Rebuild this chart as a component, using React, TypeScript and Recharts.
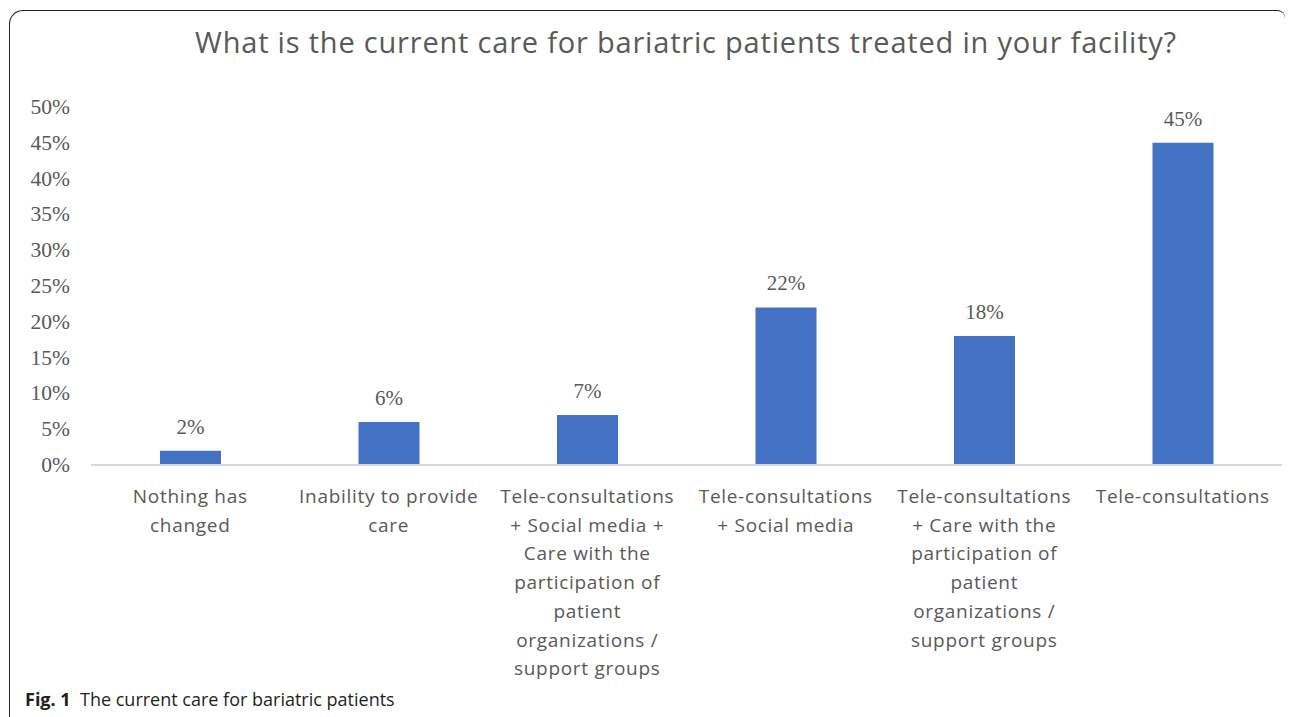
import { BarChart, Bar, XAxis, YAxis, LabelList } from 'recharts';

const categorias = [
  'Nothing has\nchanged',
  'Inability to provide\ncare',
  'Tele-consultations\n+ Social media +\nCare with the\nparticipation of\npatient\norganizations /\nsupport groups',
  'Tele-consultations\n+ Social media',
  'Tele-consultations\n+ Care with the\nparticipation of\npatient\norganizations /\nsupport groups',
  'Tele-consultations',
];
const valores = [0.02, 0.06, 0.07, 0.22, 0.18, 0.45];
const ticksY = [0, 0.05, 0.1, 0.15, 0.2, 0.25, 0.3, 0.35, 0.4, 0.45, 0.5];

const dados = categorias.map((c, i) => ({ categoria: c, valor: valores[i] }));

const cinza = '#595959';
const pct = (v: number) => `${Math.round(v * 100)}%`;

function TickX({ x, y, payload }: any) {
  const linhas = String(payload.value).split('\n');
  return (
    <text x={x} y={y} textAnchor="middle" fill={cinza} fontFamily="Open Sans" fontSize={19} letterSpacing={0.7}>
      {linhas.map((l, i) => (
        <tspan key={i} x={x} dy={i === 0 ? 30 : 28.7}>{l}</tspan>
      ))}
    </text>
  );
}

function TickY({ x, y, payload }: any) {
  return (
    <text x={x - 13} y={y + 7} textAnchor="end" fill={cinza} fontFamily="Liberation Serif" fontSize={21.5}>
      {pct(payload.value)}
    </text>
  );
}

export default function App() {
  return (
    <div style={{ position: 'fixed', left: 0, top: 0, width: 1290, height: 717, background: '#fff', overflow: 'hidden' }}>
      <div style={{
        position: 'absolute', left: 9, top: 10, width: 1276, height: 720,
        borderTop: '1.5px solid #222', borderLeft: '1.5px solid #222', borderTopLeftRadius: 14, borderTopRightRadius: 8,
        boxSizing: 'border-box',
      }} />
      <div style={{
        position: 'absolute', left: 0, top: 22, width: 1372, textAlign: 'center',
        fontFamily: 'Open Sans', fontSize: 29, letterSpacing: 0.8, color: cinza,
      }}>
        What is the current care for bariatric patients treated in your facility?
      </div>
      <div style={{ position: 'absolute', left: 0, top: 0 }}>
        <BarChart width={1290} height={700} data={dados} margin={{ top: 107, right: 8, left: 11, bottom: 205 }}>
          <YAxis
            width={80}
            domain={[0, 0.5]}
            ticks={ticksY}
            axisLine={false}
            tickLine={false}
            tick={<TickY />}
            interval={0}
          />
          <XAxis
            dataKey="categoria"
            axisLine={{ stroke: '#d9d9d9', strokeWidth: 2 }}
            tickLine={false}
            tick={<TickX />}
            interval={0}
          />
          <Bar dataKey="valor" fill="#4472c4" barSize={61} isAnimationActive={false}>
            <LabelList
              dataKey="valor"
              position="top"
              offset={17}
              formatter={(v: any) => pct(Number(v))}
              fill={cinza}
              fontFamily="Liberation Serif"
              fontSize={21}
            />
          </Bar>
        </BarChart>
      </div>
      <div style={{ position: 'absolute', left: 25, top: 687, fontFamily: 'Open Sans', fontSize: 18, color: '#231f20' }}>
        <b>Fig. 1</b>&nbsp; The current care for bariatric patients
      </div>
    </div>
  );
}
